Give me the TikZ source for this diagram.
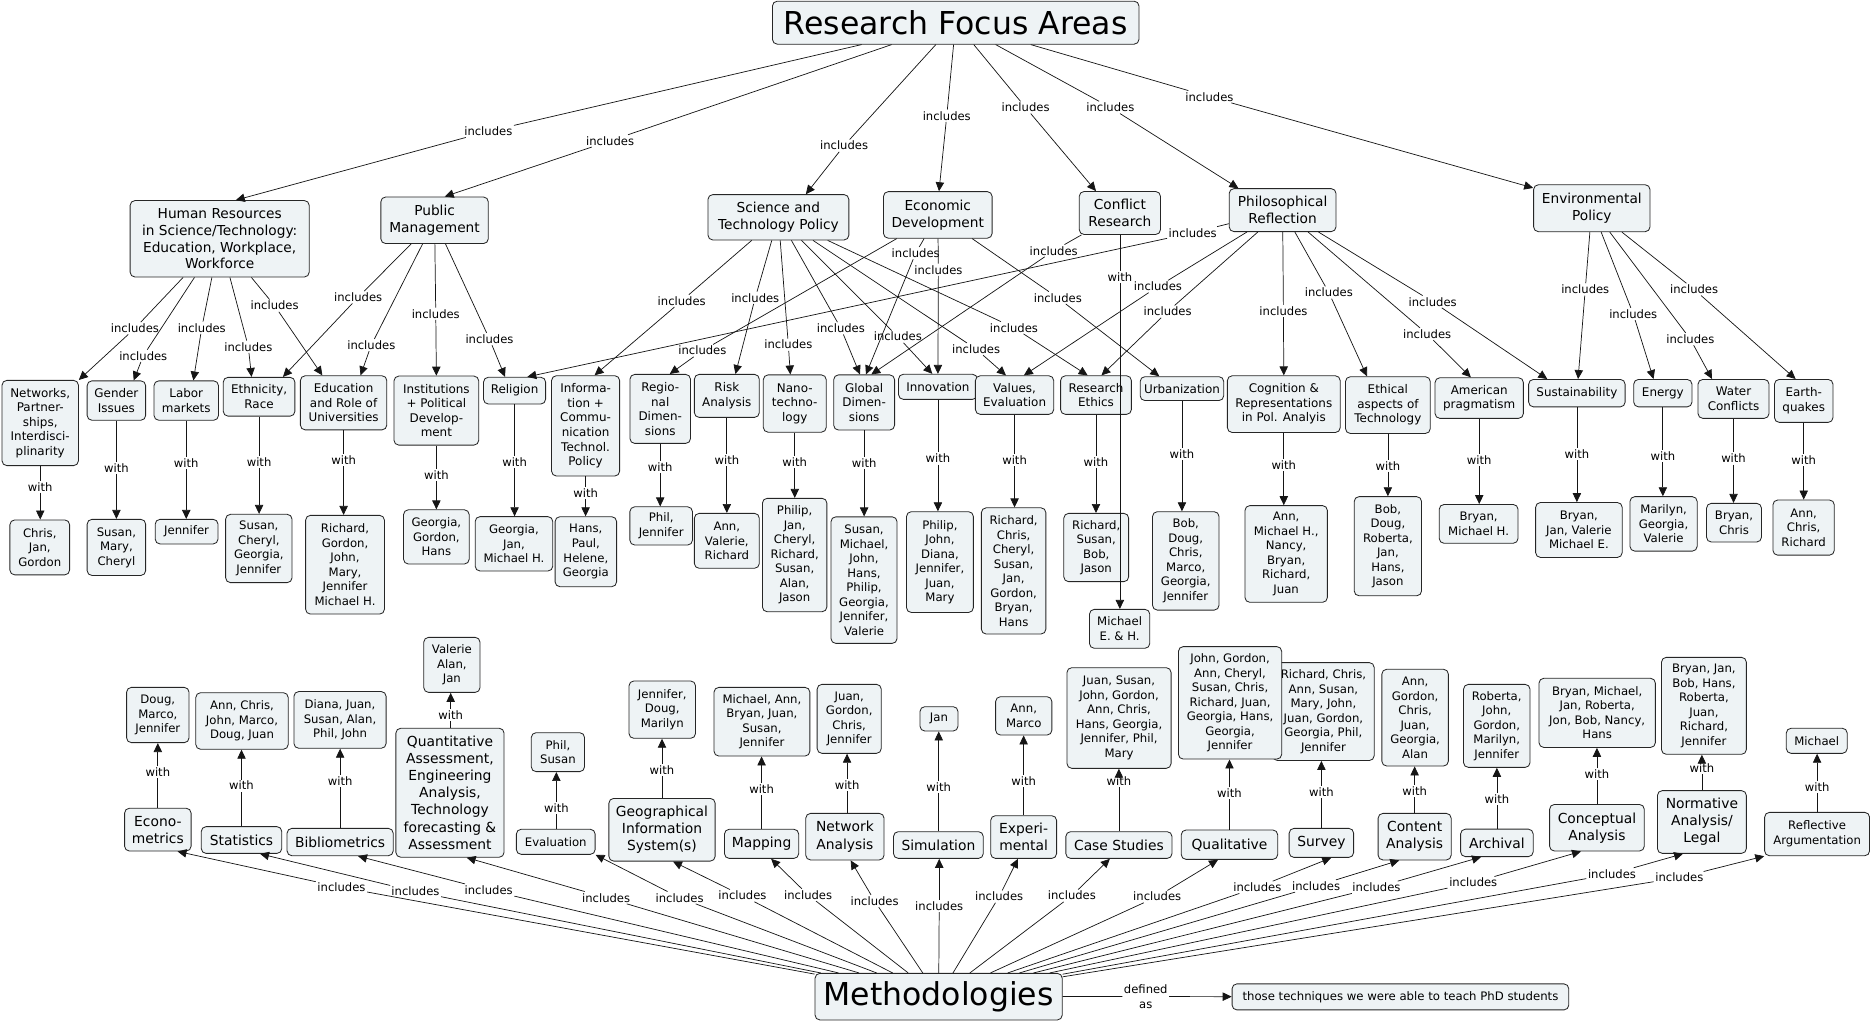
\documentclass[tikz,border=0pt]{standalone}
\usepackage{fontspec}
\setmainfont{DejaVu Sans}
\usetikzlibrary{arrows.meta}
\definecolor{boxfill}{HTML}{EEF3F5}
\definecolor{edgecol}{HTML}{151515}
\tikzset{
  bx/.style={draw=black!85, fill=boxfill, rounded corners=4pt, align=center, inner sep=1pt, line width=0.7pt},
  fT/.style={font=\fontsize{26.4}{30}\selectfont},
  fA/.style={font=\fontsize{11.5}{14.1}\selectfont},
  fB/.style={font=\fontsize{10}{12.2}\selectfont},
  fN/.style={font=\fontsize{9.8}{12.15}\selectfont},
  fM/.style={font=\fontsize{11.6}{14.3}\selectfont},
  fE/.style={font=\fontsize{9.8}{12.3}\selectfont},
  lab/.style={font=\fontsize{9.7}{12}\selectfont, inner sep=1.2pt, align=center},
  ln/.style={draw=edgecol, line width=0.6pt},
  arr/.style={ln, -{Triangle[length=7.5pt,width=7pt]}},
}
\newcommand\BX[6]{\node[bx,#1,minimum width=#4pt,minimum height=#5pt] (#2) at (#3) {#6};}
\newcommand\INC[4]{\node[lab] (#2) at (#3) {includes}; \draw[ln] (#1) -- (#2); \draw[arr] (#2) -- (#4);}
\newcommand\WD[4]{\node[lab] (#2) at (#3) {with}; \draw[ln] (#2 |- #1.south) -- (#2); \draw[arr] (#2) -- (#2 |- #4.north);}
\newcommand\WU[4]{\node[lab] (#2) at (#3) {with}; \draw[ln] (#2 |- #1.north) -- (#2); \draw[arr] (#2) -- (#2 |- #4.south);}
\begin{document}
\begin{tikzpicture}[x=1pt,y=-1pt]
\useasboundingbox (0,0) rectangle (1568,857);
% ---------- title and level 1
\BX{fT}{title}{800.5,19}{307}{36}{Research Focus Areas}
\BX{fA}{hr}{184,200}{150}{64}{Human Resources\\in Science/Technology:\\Education, Workplace,\\Workforce}
\BX{fA}{pm}{364,184.5}{90}{39}{Public\\Management}
\BX{fA}{stp}{652,182}{118}{38}{Science and\\Technology Policy}
\BX{fA}{ed}{785.5,180}{91}{39}{Economic\\Development}
\BX{fA}{cr}{938,178.4}{68}{36}{Conflict\\Research}
\BX{fA}{pr}{1074.3,176}{89.5}{36}{Philosophical\\Reflection}
\BX{fA}{ep}{1333.3,174.4}{97.5}{39.3}{Environmental\\Policy}
% ---------- level 2
\BX{fB}{net}{33.7,354.3}{64}{71.4}{Networks,\\Partner-\\ships,\\Interdisci-\\plinarity}
\BX{fB}{gen}{97.5,335.5}{49}{33}{Gender\\Issues}
\BX{fB}{lbm}{156,335.5}{54}{33}{Labor\\markets}
\BX{fB}{eth}{217,332.3}{60}{32.5}{Ethnicity,\\Race}
\BX{fB}{edu}{287.8,337.4}{72.4}{45.3}{Education\\and Role of\\Universities}
\BX{fB}{inst}{365.5,343.9}{71}{57.8}{Institutions\\+ Political\\Develop-\\ment}
\BX{fB}{rel}{431,327.2}{52}{22.4}{Religion}
\BX{fB}{info}{490.5,356.7}{57}{84}{Informa-\\tion +\\Commu-\\nication\\Technol.\\Policy}
\BX{fB}{reg}{553,342.5}{50.7}{57.8}{Regio-\\nal\\Dimen-\\sions}
\BX{fB}{risk}{608.8,331.6}{54.4}{36}{Risk\\Analysis}
\BX{fB}{nano}{665.7,338}{52.7}{48}{Nano-\\techno-\\logy}
\BX{fB}{glob}{723.8,337.1}{51}{46.2}{Global\\Dimen-\\sions}
\BX{fB}{inno}{785.6,324}{66}{21}{Innovation}
\BX{fB}{val}{849.8,330.9}{65.6}{32.3}{Values,\\Evaluation}
\BX{fB}{rese}{918,330.9}{59.3}{32.3}{Research\\Ethics}
\BX{fB}{urb}{990,325.5}{70}{20}{Urbanization}
\BX{fB}{cog}{1075.3,338.5}{94.5}{47.5}{Cognition \&\\Representations\\in Pol. Analyis}
\BX{fB}{ethic}{1162.5,339.3}{71}{47.5}{Ethical\\aspects of\\Technology}
\BX{fB}{amer}{1239,333.4}{74}{34}{American\\pragmatism}
\BX{fB}{sust}{1320.8,329.3}{80.8}{23}{Sustainability}
\BX{fB}{ener}{1392.8,329.3}{48.8}{23}{Energy}
\BX{fB}{wat}{1452,334.1}{59.5}{32.6}{Water\\Conflicts}
\BX{fB}{earth}{1510.8,335.8}{49}{36}{Earth-\\quakes}
% ---------- top leaves
\BX{fN}{lnet}{33.3,458.5}{50}{46}{Chris,\\Jan,\\Gordon}
\BX{fN}{lgen}{97.5,458.5}{49}{47}{Susan,\\Mary,\\Cheryl}
\BX{fN}{llbm}{156.3,445.3}{52.6}{20.6}{Jennifer}
\BX{fN}{leth}{216.8,459.4}{55.6}{57.2}{Susan,\\Cheryl,\\Georgia,\\Jennifer}
\BX{fN}{ledu}{289,473}{66}{82.7}{Richard,\\Gordon,\\John,\\Mary,\\Jennifer\\Michael H.}
\BX{fN}{linst}{365.5,449.7}{55}{45.4}{Georgia,\\Gordon,\\Hans}
\BX{fN}{lrel}{430.5,455.5}{65}{45.5}{Georgia,\\Jan,\\Michael H.}
\BX{fN}{linfo}{490.7,462.1}{51.5}{58.6}{Hans,\\Paul,\\Helene,\\Georgia}
\BX{fN}{lreg}{553.8,440.5}{52.4}{32}{Phil,\\Jennifer}
\BX{fN}{lrisk}{608.8,453}{54.4}{46}{Ann,\\Valerie,\\Richard}
\BX{fN}{lnano}{665.6,464.9}{54}{95}{Philip,\\Jan,\\Cheryl,\\Richard,\\Susan,\\Alan,\\Jason}
\BX{fN}{lglob}{723.7,485.9}{55.3}{106}{Susan,\\Michael,\\John,\\Hans,\\Philip,\\Georgia,\\Jennifer,\\Valerie}
\BX{fN}{linno}{787.3,470.8}{56}{84.4}{Philip,\\John,\\Diana,\\Jennifer,\\Juan,\\Mary}
\BX{fN}{lval}{849,478.2}{54}{105.7}{Richard,\\Chris,\\Cheryl,\\Susan,\\Jan,\\Gordon,\\Bryan,\\Hans}
\BX{fN}{lrese}{918.2,458.6}{54.3}{57.2}{Richard,\\Susan,\\Bob,\\Jason}
\BX{fN}{lmich}{937.8,526.7}{50.5}{32.6}{Michael\\E. \& H.}
\BX{fN}{lurb}{993.2,469.8}{55.7}{82.4}{Bob,\\Doug,\\Chris,\\Marco,\\Georgia,\\Jennifer}
\BX{fN}{lcog}{1077.3,464}{69}{81}{Ann,\\Michael H.,\\Nancy,\\Bryan,\\Richard,\\Juan}
\BX{fN}{lethic}{1162.5,457.5}{56.4}{83}{Bob,\\Doug,\\Roberta,\\Jan,\\Hans,\\Jason}
\BX{fN}{lamer}{1238.5,438.8}{66}{32.5}{Bryan,\\Michael H.}
\BX{fN}{lsust}{1322.5,443.9}{72.5}{46}{Bryan,\\Jan, Valerie\\Michael E.}
\BX{fN}{lener}{1393.4,438.8}{56.3}{45.6}{Marilyn,\\Georgia,\\Valerie}
\BX{fN}{lwat}{1452.4,437.8}{46}{32.4}{Bryan,\\Chris}
\BX{fN}{learth}{1510.7,441.9}{51.4}{46.2}{Ann,\\Chris,\\Richard}
% ---------- methodologies
\BX{fT}{meth}{786.2,834.8}{207}{39}{Methodologies}
\BX{fE}{those}{1173,835}{282}{21.8}{those techniques we were able to teach PhD students}
\BX{fM}{econ}{132.2,694.9}{55.7}{35.8}{Econo-\\metrics}
\BX{fM}{stat}{202.3,703.6}{67.4}{22.4}{Statistics}
\BX{fM}{bib}{284.9,705.3}{88.9}{22.9}{Bibliometrics}
\BX{fM}{quant}{376.9,664}{90.6}{108}{Quantitative\\Assessment,\\Engineering\\Analysis,\\Technology\\forecasting \&\\Assessment}
\BX{fE}{eval}{465.5,705.1}{66}{21}{Evaluation}
\BX{fM}{gis}{554.5,695}{89}{52.5}{Geographical\\Information\\System(s)}
\BX{fM}{map}{637.9,706.8}{62.2}{24.4}{Mapping}
\BX{fM}{netw}{707.7,700.8}{65.6}{39}{Network\\Analysis}
\BX{fM}{sim}{786,707.8}{75.2}{22.4}{Simulation}
\BX{fM}{exp}{857.4,701.1}{55.2}{35.8}{Experi-\\mental}
\BX{fM}{case}{937.2,707.8}{88.9}{22.4}{Case Studies}
\BX{fM}{qual}{1029.8,707.5}{80.8}{24.6}{Qualitative}
\BX{fM}{surv}{1106.8,706}{54}{24.3}{Survey}
\BX{fM}{cont}{1184.9,700.8}{61.2}{39}{Content\\Analysis}
\BX{fM}{arch}{1253.8,706}{60.8}{23}{Archival}
\BX{fM}{conc}{1337.6,693.3}{79.3}{39}{Conceptual\\Analysis}
\BX{fM}{norm}{1425.5,688.5}{74.5}{52.5}{Normative\\Analysis/\\Legal}
\BX{fE}{refl}{1522,698.6}{87.9}{36.3}{Reflective\\Argumentation}
% ---------- bottom leaves
\BX{fN}{becon}{132.2,598.9}{52.3}{46.3}{Doug,\\Marco,\\Jennifer}
\BX{fN}{bstat}{202.7,603.9}{77.4}{47.4}{Ann, Chris,\\John, Marco,\\Doug, Juan}
\BX{fN}{bbib}{284.8,603}{77.2}{47.5}{Diana, Juan,\\Susan, Alan,\\Phil, John}
\BX{fN}{bquant}{378.5,556.9}{47.1}{46.1}{Valerie\\Alan,\\Jan}
\BX{fN}{beval}{467.3,630}{44.6}{32.6}{Phil,\\Susan}
\BX{fN}{bgis}{554.7,594.4}{55.7}{48}{Jennifer,\\Doug,\\Marilyn}
\BX{fN}{bmap}{638.2,604.5}{80.3}{57.5}{Michael, Ann,\\Bryan, Juan,\\Susan,\\Jennifer}
\BX{fN}{bnet}{711.3,602.1}{53.7}{57.8}{Juan,\\Gordon,\\Chris,\\Jennifer}
\BX{fN}{bsim}{786.5,602.1}{31.8}{20.4}{Jan}
\BX{fN}{bexp}{857.5,599.6}{47.1}{32.1}{Ann,\\Marco}
\BX{fN}{bcase}{937.3,601.4}{87.2}{84.3}{Juan, Susan,\\John, Gordon,\\Ann, Chris,\\Hans, Georgia,\\Jennifer, Phil,\\Mary}
\BX{fN}{bsurv}{1108.5,596}{85}{82}{Richard, Chris,\\Ann, Susan,\\Mary, John,\\Juan, Gordon,\\Georgia, Phil,\\Jennifer}
\BX{fN}{bqual}{1030.3,588.7}{86.5}{94.2}{John, Gordon,\\Ann, Cheryl,\\Susan, Chris,\\Richard, Juan,\\Georgia, Hans,\\Georgia,\\Jennifer}
\BX{fN}{bcont}{1185.3,601.1}{55.7}{81}{Ann,\\Gordon,\\Chris,\\Juan,\\Georgia,\\Alan}
\BX{fN}{barch}{1253.7,608}{55.7}{69.5}{Roberta,\\John,\\Gordon,\\Marilyn,\\Jennifer}
\BX{fN}{bconc}{1337.8,597.1}{97.5}{57.9}{Bryan, Michael,\\Jan, Roberta,\\Jon, Bob, Nancy,\\Hans}
\BX{fN}{bnorm}{1427.2,591.2}{71.1}{81.2}{Bryan, Jan,\\Bob, Hans,\\Roberta,\\Juan,\\Richard,\\Jennifer}
\BX{fN}{brefl}{1521.7,620.5}{51}{21}{Michael}
% ---------- top connectors
\INC{title}{i1}{409,110}{[xshift=13.5pt]hr.north}
\INC{title}{i2}{511,118}{[xshift=8.5pt]pm.north}
\INC{title}{i3}{707,122}{[xshift=23pt]stp.north}
\INC{title}{i4}{793,97}{[xshift=1pt]ed.north}
\INC{title}{i5}{859,90}{[xshift=-20pt]cr.north}
\INC{title}{i6}{930,90}{[xshift=-37pt]pr.north}
\INC{title}{i7}{1013,81}{[yshift=-3pt]ep.north west}
\INC{hr}{i8}{113,275}{net.north east}
\INC{hr}{i9}{120,298}{[xshift=14.5pt]gen.north}
\INC{hr}{i10}{169,274.5}{[xshift=6pt]lbm.north}
\INC{hr}{i11}{208,290.4}{[xshift=-6.3pt]eth.north}
\INC{hr}{i12}{230,256}{[xshift=-17.8pt]edu.north}
\INC{pm}{i13}{300,249}{[xshift=20pt]eth.north}
\INC{pm}{i14}{311,289}{[xshift=14.2pt]edu.north}
\INC{pm}{i15}{365,262.8}{inst.north}
\INC{pm}{i16}{410,284}{[xshift=-8pt]rel.north}
\INC{pr}{i17}{999,195}{[xshift=10.7pt]rel.north}
\INC{stp}{i18}{571,252}{[xshift=7.5pt]info.north}
\INC{stp}{i19}{632.6,249.4}{[xshift=7.2pt]risk.north}
\INC{stp}{i20}{660.3,288.7}{[xshift=-3.7pt]nano.north}
\INC{stp}{i21}{704.3,275}{[xshift=-3.5pt]glob.north}
\INC{stp}{i22}{752,282}{[xshift=-4.7pt]inno.north}
\INC{stp}{i23}{817.6,292.4}{[xshift=-7.2pt]val.north}
\INC{stp}{i24}{849.3,274.5}{[xshift=-7pt]rese.north}
\INC{ed}{i25}{588.3,293.7}{[xshift=8pt]reg.north}
\INC{ed}{i26}{767,212}{[xshift=1.5pt]glob.north}
\INC{ed}{i27}{786,226}{inno.north}
\INC{ed}{i28}{886,249.4}{[xshift=-19pt]urb.north}
\INC{cr}{i29}{882.6,210}{[xshift=6pt]glob.north}
\INC{pr}{i31}{969.9,240}{[xshift=7.8pt]val.north}
\INC{pr}{i32}{978,261}{[xshift=4.6pt]rese.north}
\INC{pr}{i33}{1075,260.5}{cog.north}
\INC{pr}{i34}{1113,245}{[xshift=-17.5pt]ethic.north}
\INC{pr}{i35}{1195.4,279.8}{[xshift=-7pt]amer.north}
\INC{pr}{i36}{1200,252.7}{[xshift=-24.8pt]sust.north}
\INC{ep}{i37}{1327.8,242.4}{[xshift=1pt]sust.north}
\INC{ep}{i38}{1368,263}{[xshift=-7.8pt]ener.north}
\INC{ep}{i39}{1415.8,284}{[xshift=-18pt]wat.north}
\INC{ep}{i40}{1419,242.4}{[xshift=-6.8pt]earth.north}
% ---------- top "with"
\WD{net}{w1}{33.7,407.6}{lnet}
\WD{gen}{w2}{97.5,391.8}{lgen}
\WD{lbm}{w3}{156,387.6}{llbm}
\WD{eth}{w4}{217,386.7}{leth}
\WD{edu}{w5}{287.8,385.3}{ledu}
\WD{inst}{w6}{365.5,397.9}{linst}
\WD{rel}{w7}{431,386.7}{lrel}
\WD{info}{w8}{490.5,412.7}{linfo}
\WD{reg}{w9}{553,390.9}{lreg}
\WD{risk}{w10}{608.8,385.3}{lrisk}
\WD{nano}{w11}{665.7,386.7}{lnano}
\WD{glob}{w12}{723.8,387.6}{lglob}
\WD{inno}{w13}{785.6,384}{linno}
\WD{val}{w14}{849.8,385.3}{lval}
\WD{rese}{w15}{918,386.7}{lrese}
\WD{urb}{w16}{990,380.3}{lurb}
\WD{cog}{w17}{1075.3,389.5}{lcog}
\WD{ethic}{w18}{1162.5,390}{lethic}
\WD{amer}{w19}{1239,385.3}{lamer}
\WD{sust}{w20}{1320.8,380.3}{lsust}
\WD{ener}{w21}{1392.8,382}{lener}
\WD{wat}{w22}{1452,384}{lwat}
\WD{earth}{w23}{1510.8,385.3}{learth}
\WD{cr}{wcr}{938,231.8}{lmich}
% ---------- bottom connectors
\INC{meth}{j1}{286,743.2}{[xshift=16.5pt]econ.south}
\INC{meth}{j2}{348,746.8}{[xshift=15.5pt]stat.south}
\INC{meth}{j3}{409.3,745.5}{[xshift=15pt]bib.south}
\INC{meth}{j4}{507.7,751.9}{[xshift=14pt]quant.south}
\INC{meth}{j5}{569.2,751.9}{eval.south east}
\INC{meth}{j6}{621.9,750.2}{[xshift=9.2pt]gis.south}
\INC{meth}{j7}{676.9,749.6}{[xshift=8pt]map.south}
\INC{meth}{j8}{732.6,754.7}{[xshift=4.8pt]netw.south}
\INC{meth}{j9}{786.7,758.9}{[xshift=0.7pt]sim.south}
\INC{meth}{j10}{836.9,751}{[xshift=-4.8pt]exp.south}
\INC{meth}{j11}{897.8,750.2}{[xshift=-7.6pt]case.south}
\INC{meth}{j12}{969.3,751}{[xshift=-9.6pt]qual.south}
\INC{meth}{j13}{1053.1,743.2}{[xshift=8.2pt]surv.south}
\INC{meth}{j14}{1102.3,742.1}{[xshift=-12.9pt]cont.south}
\INC{meth}{j15}{1152.9,743.2}{[xshift=-13.3pt]arch.south}
\INC{meth}{j16}{1234,739.3}{[xshift=-13.4pt]conc.south}
\INC{meth}{j17}{1350.2,732}{[xshift=-15.8pt]norm.south}
\INC{meth}{j18}{1406.6,735.1}{refl.south west}
\node[lab] (def) at (959.7,834.7) {defined\\as};
\draw[ln] (meth) -- (def);
\draw[arr] (def) -- (those);
% ---------- bottom "with"
\WU{econ}{v1}{132.2,646.9}{becon}
\WU{stat}{v2}{202.3,658}{bstat}
\WU{bib}{v3}{284.9,654}{bbib}
\WU{quant}{v4}{377.5,598.9}{bquant}
\WU{eval}{v5}{466,676.5}{beval}
\WU{gis}{v6}{554.5,644.9}{bgis}
\WU{map}{v7}{637.9,660.9}{bmap}
\WU{netw}{v8}{709.5,657.5}{bnet}
\WU{sim}{v9}{786.3,658.9}{bsim}
\WU{exp}{v10}{857.4,654.2}{bexp}
\WU{case}{v11}{937.2,654.2}{bcase}
\WU{qual}{v12}{1029.8,664.5}{bqual}
\WU{surv}{v13}{1106.8,663.1}{bsurv}
\WU{cont}{v14}{1184.9,662.3}{bcont}
\WU{arch}{v15}{1253.8,669.2}{barch}
\WU{conc}{v16}{1337.6,648.6}{bconc}
\WU{norm}{v17}{1425.5,643}{bnorm}
\WU{refl}{v18}{1522,658.9}{brefl}
\end{tikzpicture}
\end{document}
